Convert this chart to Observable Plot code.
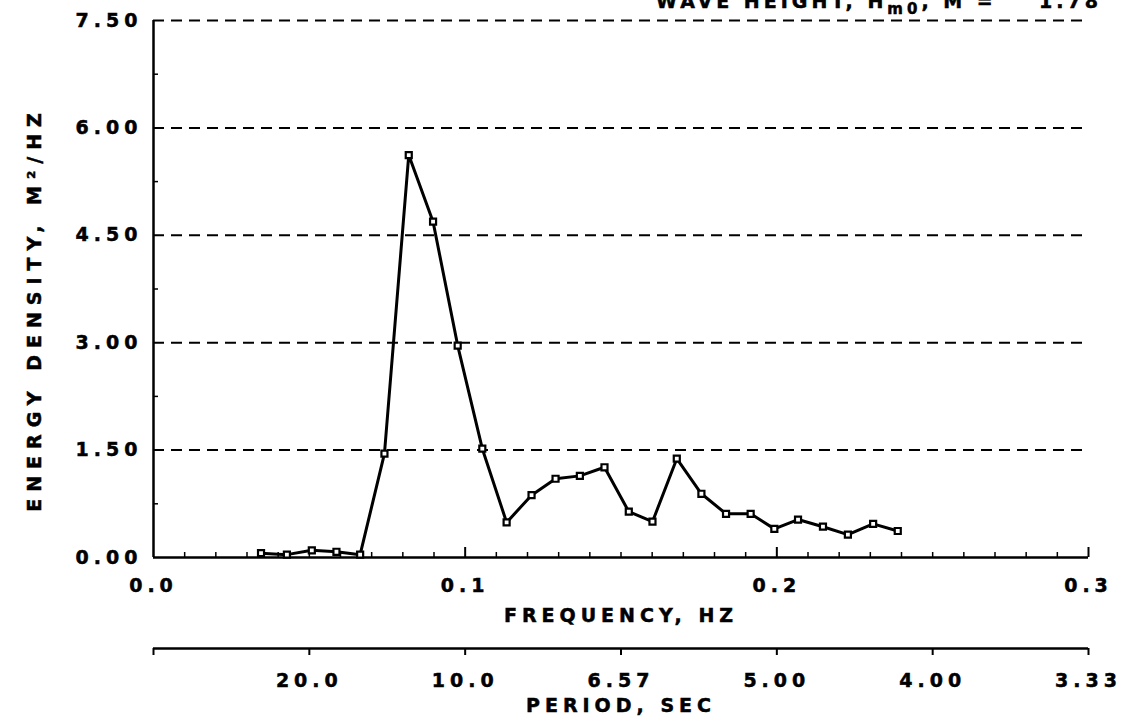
<!DOCTYPE html>
<html>
<head>
<meta charset="utf-8">
<script src="https://cdn.jsdelivr.net/npm/d3@7"></script>
<script src="https://cdn.jsdelivr.net/npm/@observablehq/plot@0.6"></script>
<style>
  body { margin: 0; background: #fff; overflow: hidden; }
  #wrap { position: relative; width: 1128px; height: 724px; overflow: hidden; background: #fff;
          font-family: "DejaVu Sans", sans-serif; font-weight: bold; color: #000; }
  #title { position: absolute; top: -8px; right: 26px; font-size: 19px; line-height: 19px;
           letter-spacing: 4px; white-space: pre; -webkit-text-stroke: 0.5px #000; }
  #title sub { font-size: 15px; line-height: 0; vertical-align: -0.4em; }
  #chart svg, #period svg { display: block; }
</style>
</head>
<body>
<div id="wrap">
  <div id="title">WAVE HEIGHT, H<sub>m0</sub>, M =    1.78</div>
  <div id="chart"></div>
  <div id="period"></div>
</div>
<script>
// Spectrum
const frequency = [0.0345, 0.0428, 0.0508, 0.0587, 0.0663, 0.0741, 0.0819, 0.0897, 0.0976,
                   0.1055, 0.1133, 0.1213, 0.1290, 0.1368, 0.1447, 0.1525, 0.1601, 0.1679,
                   0.1758, 0.1837, 0.1916, 0.1992, 0.2068, 0.2148, 0.2228, 0.2309, 0.2388];
const energy = [0.06, 0.04, 0.10, 0.08, 0.04, 1.45, 5.62, 4.69, 2.96,
                1.52, 0.49, 0.87, 1.10, 1.14, 1.26, 0.64, 0.50, 1.38,
                0.89, 0.61, 0.61, 0.40, 0.53, 0.43, 0.32, 0.47, 0.37];

// Axis ticks
const energyTicks = [0, 1.5, 3, 4.5, 6, 7.5];
const energyGrid = [1.5, 3, 4.5, 6, 7.5];
const energyMinor = [0.75, 2.25, 3.75, 5.25, 6.75];
const freqTicks = [0, 0.1, 0.2, 0.3];
const freqMajorInner = [0.1, 0.2, 0.3];
const freqMinor = [0.01, 0.02, 0.03, 0.04, 0.05, 0.06, 0.07, 0.08, 0.09,
                   0.11, 0.12, 0.13, 0.14, 0.15, 0.16, 0.17, 0.18, 0.19,
                   0.21, 0.22, 0.23, 0.24, 0.25, 0.26, 0.27, 0.28, 0.29];
const periodFreqs = [0, 0.05, 0.1, 0.15, 0.2, 0.25, 0.3];
const periodLabels = ["", "20.0", "10.0", "6.57", "5.00", "4.00", "3.33"];

const data = frequency.map((f, i) => ({f, e: energy[i]}));

const font = {fontFamily: "DejaVu Sans, sans-serif", fontWeight: "bold", fontSize: "19px",
              color: "#000", background: "#fff", overflow: "visible"};

const main = Plot.plot({
  width: 1128, height: 632,
  marginLeft: 153, marginRight: 40, marginTop: 20, marginBottom: 75,
  style: font,
  x: {domain: [0, 0.3]},
  y: {domain: [0, 7.5]},
  marks: [
    Plot.ruleY(energyGrid, {stroke: "#000", strokeWidth: 2, strokeDasharray: "11,7"}),
    Plot.axisY({ticks: energyTicks, tickSize: 0, tickPadding: 11,
                tickFormat: d => d.toFixed(2),
                label: "ENERGY DENSITY, M²/HZ", labelArrow: "none",
                labelAnchor: "center", labelOffset: 126}),
    Plot.axisY({ticks: energyMinor, tickSize: -5, strokeWidth: 1.5, fill: "none", label: null}),
    Plot.axisX({ticks: freqTicks, tickSize: 0, tickPadding: 21,
                tickFormat: d => d.toFixed(1),
                label: "FREQUENCY, HZ", labelArrow: "none",
                labelAnchor: "center", labelOffset: 64}),
    Plot.axisX({ticks: freqMinor, tickSize: -5, strokeWidth: 1.5, fill: "none", label: null}),
    Plot.axisX({ticks: freqMajorInner, tickSize: -10, strokeWidth: 2, fill: "none", label: null}),
    Plot.ruleX([0], {stroke: "#000", strokeWidth: 2.5}),
    Plot.ruleY([0], {stroke: "#000", strokeWidth: 2.5}),
    Plot.line(data, {x: "f", y: "e", stroke: "#000", strokeWidth: 3}),
    Plot.dot(data, {x: "f", y: "e", symbol: "square", r: 3.4, fill: "#fff", stroke: "#000", strokeWidth: 2.2})
  ]
});

const period = Plot.plot({
  width: 1128, height: 92,
  marginLeft: 153, marginRight: 40, marginTop: 15, marginBottom: 76,
  style: font,
  x: {domain: [0, 0.3]},
  y: {domain: [0, 1], axis: null},
  marks: [
    Plot.axisX({ticks: periodFreqs, tickSize: 7, tickPadding: 18, strokeWidth: 2,
                tickFormat: d => periodLabels[periodFreqs.indexOf(d)],
                label: "PERIOD, SEC", labelArrow: "none",
                labelAnchor: "center", labelOffset: 63}),
    Plot.ruleY([0], {stroke: "#000", strokeWidth: 2.5})
  ]
});

document.getElementById("chart").appendChild(main);
document.getElementById("period").appendChild(period);
d3.selectAll("#wrap svg text")
  .style("letter-spacing", "5px")
  .style("stroke", "#000")
  .style("stroke-width", "0.5px");
d3.selectAll('#chart g[aria-label="y-axis label"] text')
  .style("letter-spacing", "7px")
  .attr("dx", -20);
</script>
</body>
</html>
